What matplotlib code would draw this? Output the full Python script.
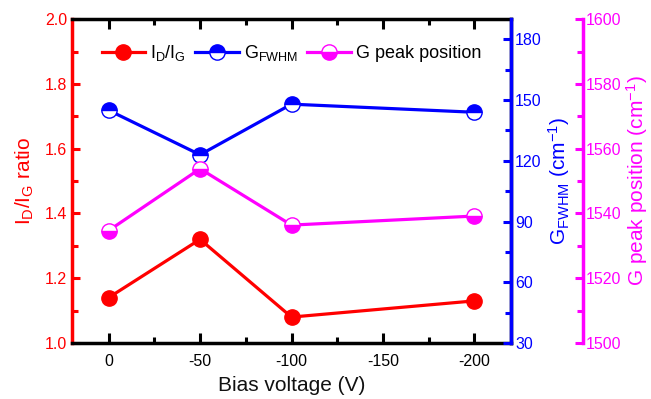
import matplotlib
matplotlib.use("Agg")
import matplotlib.pyplot as plt
from matplotlib.ticker import MultipleLocator

plt.rcParams['font.family'] = ['Liberation Sans', 'DejaVu Sans']
plt.rcParams['mathtext.fontset'] = 'custom'
plt.rcParams['mathtext.rm'] = 'Liberation Sans'
plt.rcParams['mathtext.it'] = 'Liberation Sans'

bias = [0, -50, -100, -200]
id_ig = [1.14, 1.32, 1.08, 1.13]
g_fwhm = [145, 123, 148, 144]
g_peak = [1534.7, 1553.8, 1536.4, 1539.2]

RED = '#ff0000'
BLUE = '#0000ff'
MAG = '#ff00ff'

fig = plt.figure(figsize=(6.51, 3.99), dpi=100)
ax = fig.add_axes([0.1106, 0.1404, 0.785 - 0.1106, 0.952 - 0.1404])
ax2 = ax.twinx()
ax3 = ax.twinx()
ax3.spines['right'].set_position(('axes', 1.164))

lw = 2.3
ms = 11
l1, = ax.plot(bias, id_ig, '-o', color=RED, lw=lw, ms=ms, mfc=RED, mec=RED, label='I$_D$/I$_G$', zorder=5)
l2, = ax2.plot(bias, g_fwhm, '-o', color=BLUE, lw=lw, ms=ms, mfc=BLUE, mec=BLUE,
               fillstyle='top', markerfacecoloralt='white', mew=1.0, label='G$_{FWHM}$')
l3, = ax3.plot(bias, g_peak, '-o', color=MAG, lw=lw, ms=ms, mfc=MAG, mec=MAG,
               fillstyle='bottom', markerfacecoloralt='white', mew=1.0, label='G peak position')

ax.set_xlim(20, -220)
ax.set_ylim(1.0, 2.0)
ax2.set_ylim(30, 190)
ax3.set_ylim(1500, 1600)

ax.xaxis.set_major_locator(MultipleLocator(50))
ax.xaxis.set_minor_locator(MultipleLocator(25))
ax.yaxis.set_major_locator(MultipleLocator(0.2))
ax.yaxis.set_minor_locator(MultipleLocator(0.1))
ax2.yaxis.set_major_locator(MultipleLocator(30))
ax2.yaxis.set_minor_locator(MultipleLocator(15))
ax3.yaxis.set_major_locator(MultipleLocator(20))
ax3.yaxis.set_minor_locator(MultipleLocator(10))

ax.set_xticks([0, -50, -100, -150, -200])
ax.set_xticklabels(['0', '-50', '-100', '-150', '-200'])

spw = 2.5
for a in (ax, ax2, ax3):
    for s in a.spines.values():
        s.set_linewidth(spw)
ax.spines['left'].set_color(RED)
ax.spines['bottom'].set_color('black')
ax.spines['top'].set_color('black')
ax2.spines['right'].set_color(BLUE)
ax2.spines['left'].set_visible(False)
ax3.spines['left'].set_visible(False)
ax3.spines['top'].set_visible(False)
ax3.spines['bottom'].set_visible(False)
ax2.spines['top'].set_visible(False)
ax2.spines['bottom'].set_visible(False)
ax3.spines['right'].set_color(MAG)

fs = 11.5
ax.tick_params(axis='x', which='both', direction='in', top=True, bottom=True, labelsize=fs, colors='black', width=2.2, pad=8)
ax.tick_params(axis='x', which='major', length=7)
ax.tick_params(axis='x', which='minor', length=4)
ax.tick_params(axis='y', which='both', direction='in', colors=RED, labelsize=fs, width=2.2)
ax.tick_params(axis='y', which='major', length=6)
ax.tick_params(axis='y', which='minor', length=4)
ax2.tick_params(axis='y', which='both', direction='in', colors=BLUE, labelsize=fs, width=2.2, pad=3)
ax2.tick_params(axis='y', which='major', length=6)
ax2.tick_params(axis='y', which='minor', length=4)
ax3.tick_params(axis='y', which='both', direction='in', colors=MAG, labelsize=fs, width=2.2, pad=2)
ax3.tick_params(axis='y', which='major', length=6)
ax3.tick_params(axis='y', which='minor', length=4)

lfs = 15
ax.set_xlabel('Bias voltage (V)', fontsize=lfs, color='#111111', labelpad=5)
ax.set_ylabel('I$_D$/I$_G$ ratio', fontsize=lfs, color=RED, labelpad=6)
ax2.set_ylabel('G$_{FWHM}$ (cm$^{-1}$)', fontsize=lfs, color=BLUE, labelpad=3)
ax3.set_ylabel('G peak position (cm$^{-1}$)', fontsize=lfs, color=MAG, labelpad=2)

leg = ax.legend(handles=[l1, l2, l3], loc='upper center', bbox_to_anchor=(0.5, 0.975), ncol=3,
                frameon=False, fontsize=13, handlelength=2.4, columnspacing=0.5, handletextpad=0.3,
                numpoints=1)

fig.savefig('out.png', dpi=100)
